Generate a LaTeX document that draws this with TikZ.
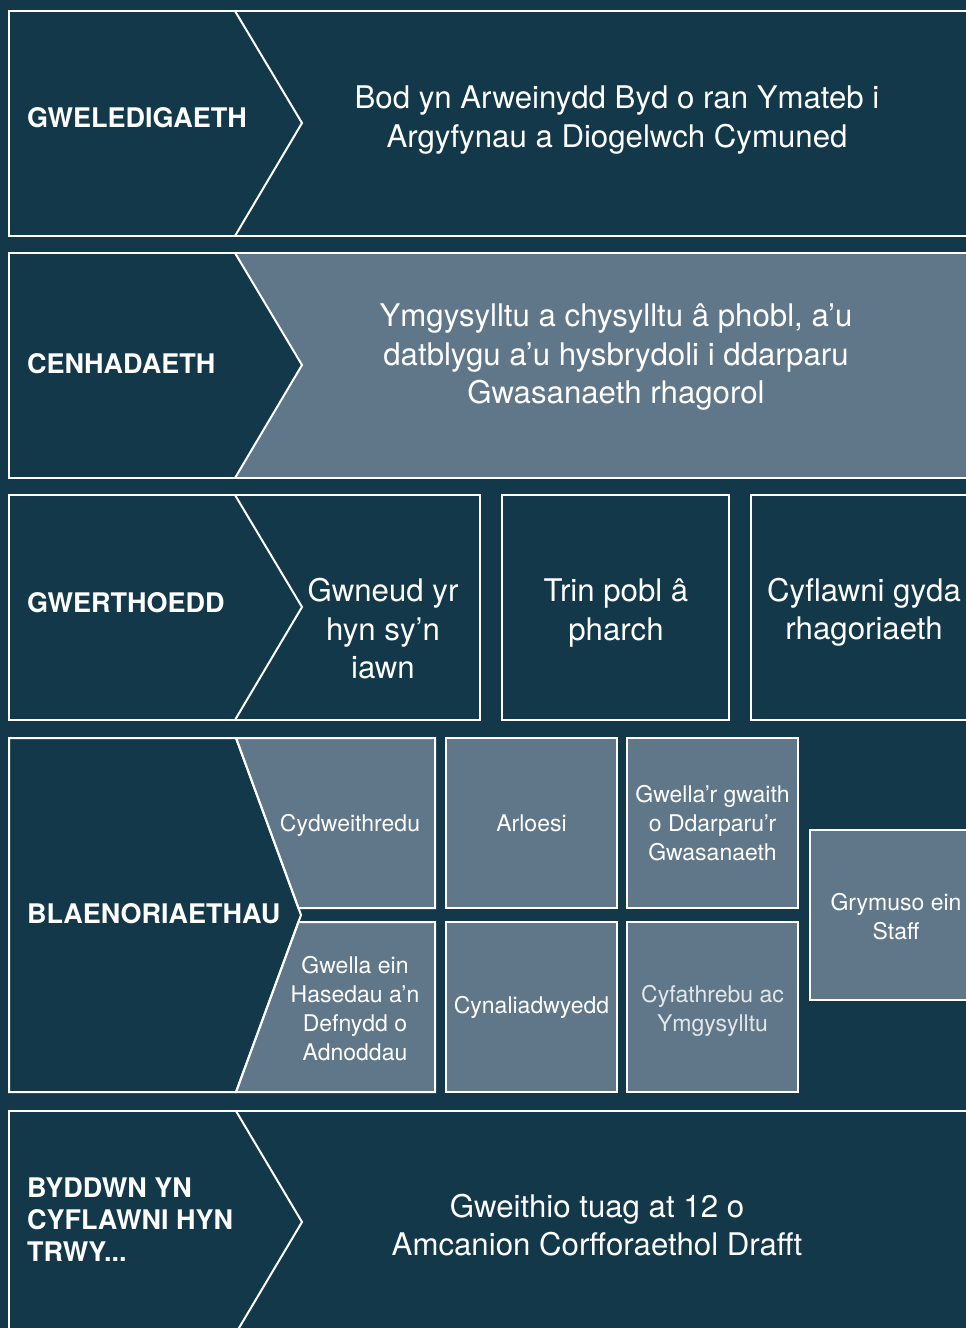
\documentclass[tikz,border=0pt]{standalone}
\usepackage{fontspec}
\setmainfont{TeX Gyre Heros}
\usetikzlibrary{positioning}
\definecolor{navy}{HTML}{12384A}
\definecolor{slate}{HTML}{607789}
\begin{document}
\begin{tikzpicture}[x=1pt,y=-1pt]
      \tikzset{
        frame/.style={draw=white, line width=2pt},
        heading/.style={anchor=west, text=white, align=left, inner sep=0pt,
          font=\bfseries\fontsize{27}{32}\selectfont},
        body/.style={text=white, align=center, inner sep=0pt,
          font=\fontsize{31.2}{38.5}\selectfont},
        celltext/.style={text=white, align=center, inner sep=0pt,
          font=\fontsize{23}{29}\selectfont},
        cell/.style={frame, fill=slate, celltext, minimum width=171pt, minimum height=170pt},
      }
      \useasboundingbox (0,0) rectangle (966,1328);
      \fill[navy] (0,0) rectangle (966,1328);
      \clip (0,0) rectangle (966,1328);

      \draw[frame] (990,11) -- (9,11) -- (9,236) -- (990,236);
      \draw[frame] (235,11) -- (302,123) -- (235,236);
      \node[heading] (vision) at (27,118) {GWELEDIGAETH};
      \node[body] (visiontext) at (617,120) {Bod yn Arweinydd Byd o ran Ymateb i\\Argyfynau a Diogelwch Cymuned};

      \fill[slate] (235,253) -- (990,253) -- (990,478) -- (235,478) -- (302,365) -- cycle;
      \draw[frame] (990,253) -- (9,253) -- (9,478) -- (990,478);
      \draw[frame] (235,253) -- (302,365) -- (235,478);
      \node[heading] (mission) at (27,364) {CENHADAETH};
      \node[body] (missiontext) at (616,357.5) {Ymgysylltu a chysylltu â phobl, a’u\\datblygu a’u hysbrydoli i ddarparu\\Gwasanaeth rhagorol};

      \draw[frame] (9,495) rectangle (480,720);
      \draw[frame] (235,495) -- (302,607) -- (235,720);
      \draw[frame] (502,495) rectangle (729,720);
      \draw[frame] (751,495) rectangle (977,720);
      \node[heading] (values) at (27,603) {GWERTHOEDD};
      \node[body] (iawn) at (383,629) {Gwneud yr\\hyn sy’n\\iawn};
      \node[body] (parch) at (616,613) {Trin pobl â\\pharch};
      \node[body] (rhagoriaeth) at (864,612) {Cyflawni gyda\\rhagoriaeth};

      \filldraw[frame, fill=slate] (236,738) -- (435,738) -- (435,908) -- (298.4,908) -- cycle;
      \filldraw[frame, fill=slate] (298.4,922) -- (435,922) -- (435,1092) -- (236,1092) -- cycle;
      \draw[frame] (236,738) -- (9,738) -- (9,1092) -- (236,1092) -- (301,915) -- cycle;
      \node[heading] (priorities) at (27,914) {BLAENORIAETHAU};
      \node[celltext] (cydweithio) at (350,825) {Cydweithredu};
      \node[celltext] (asedau) at (355,1009) {Gwella ein\\Hasedau a’n\\Defnydd o\\Adnoddau};
      \node[cell] (arloesi) at (531.5,823) {Arloesi};
      \node[cell, below=12pt of arloesi] (cynal) {Cynaliadwyedd};
      \node[cell, right=8pt of arloesi] (gwasanaeth) {Gwella’r gwaith\\o Ddarparu’r\\Gwasanaeth};
      \node[cell, below=12pt of gwasanaeth] (cyfath) {};
      \node[celltext, text=white!82!slate] (cyfathtext) at ([yshift=-4pt]cyfath.center) {Cyfathrebu ac\\Ymgysylltu};
      \node[cell, minimum width=172pt] (staff) at (896,915) {};
      \node[celltext] (stafftext) at ([yshift=-2pt]staff.center) {Grymuso ein\\Staff};

      \draw[frame] (990,1111) -- (9,1111) -- (9,1340);
      \draw[frame] (236,1111) -- (302,1222) -- (236,1333);
      \node[heading] (delivery) at (27,1220) {BYDDWN YN\\CYFLAWNI HYN\\TRWY...};
      \node[body] (amcanion) at (597,1225) {Gweithio tuag at 12 o\\Amcanion Corfforaethol Drafft};
\end{tikzpicture}
\end{document}
